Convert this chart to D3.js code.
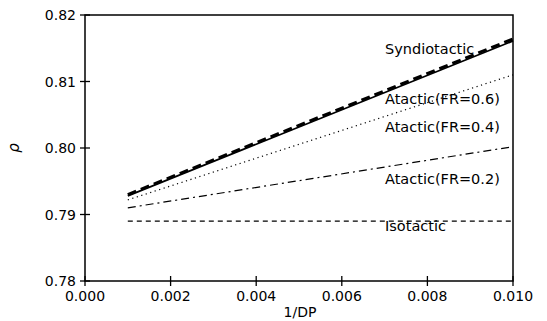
<!DOCTYPE html>
<html><head><meta charset="utf-8">
<script src="https://cdn.jsdelivr.net/npm/d3@7"></script>
<style>
body{margin:0;background:#fff;}
text{font-family:"DejaVu Sans",sans-serif;}
</style></head>
<body><svg id="c" width="547" height="321"></svg>
<script>
const xValues = [0.001, 0.010];
const syndiotactic = [0.7928, 0.8161];
const syndioDashed = [0.7930, 0.8164];
const atactic06 = [0.7922, 0.8110];
const atactic04 = [0.7910, 0.8002];
const isotactic = [0.7890, 0.7890];
const xTicks = [0.000, 0.002, 0.004, 0.006, 0.008, 0.010];
const yTicks = [0.78, 0.79, 0.80, 0.81, 0.82];
const labels = ["Syndiotactic", "Atactic(FR=0.6)", "Atactic(FR=0.4)", "Atactic(FR=0.2)", "Isotactic"];
const labelValues = [0.8141, 0.8066, 0.8024, 0.7946, 0.7875];

const svg = d3.select("#c");
const m = {l:85, r:513, t:15, b:281};
const x = d3.scaleLinear().domain([0, 0.010]).range([m.l, m.r]);
const y = d3.scaleLinear().domain([0.78, 0.82]).range([m.b, m.t]);

svg.append("rect").attr("x", m.l).attr("y", m.t).attr("width", m.r - m.l).attr("height", m.b - m.t)
  .attr("fill", "none").attr("stroke", "#000").attr("stroke-width", 1.5);

const ya = svg.append("g");
yTicks.forEach(v => {
  ya.append("line").attr("x1", m.l - 5).attr("x2", m.l + 5).attr("y1", y(v)).attr("y2", y(v))
    .attr("stroke", "#000").attr("stroke-width", 1.3);
  ya.append("text").attr("x", m.l - 9).attr("y", y(v) + 5).attr("text-anchor", "end")
    .attr("font-size", 14).text(d3.format(".2f")(v));
});
const xa = svg.append("g");
xTicks.forEach(v => {
  xa.append("line").attr("x1", x(v)).attr("x2", x(v)).attr("y1", m.b - 5).attr("y2", m.b + 5)
    .attr("stroke", "#000").attr("stroke-width", 1.3);
  xa.append("text").attr("x", x(v)).attr("y", m.b + 20).attr("text-anchor", "middle")
    .attr("font-size", 14).text(d3.format(".3f")(v));
});
svg.append("text").attr("x", 300).attr("y", 317).attr("text-anchor", "middle")
  .attr("font-size", 14).text("1/DP");
svg.append("text").attr("transform", `translate(19,${y(0.80)}) rotate(-90)`).attr("text-anchor", "middle")
  .attr("font-size", 15).attr("font-style", "italic").text("ρ");

const line = d3.line().x((d, i) => x(xValues[i])).y(d => y(d));
const series = [
  {v: syndiotactic, w: 1.8, dash: null},
  {v: syndioDashed, w: 3, dash: "9,5"},
  {v: atactic06, w: 1.2, dash: "1.2,3.5"},
  {v: atactic04, w: 1.2, dash: "8,4,2,4"},
  {v: isotactic, w: 1.2, dash: "5,4"}
];
series.forEach(s => {
  svg.append("path").attr("d", line(s.v)).attr("fill", "none").attr("stroke", "#000")
    .attr("stroke-width", s.w).attr("stroke-dasharray", s.dash);
});
labels.forEach((t, i) => {
  svg.append("text").attr("x", 385).attr("y", y(labelValues[i])).attr("font-size", 14.5).text(t);
});
</script></body></html>
